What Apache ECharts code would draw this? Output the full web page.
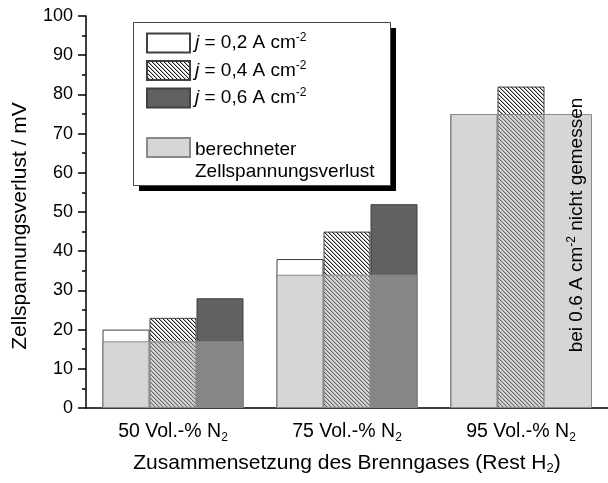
<!DOCTYPE html>
<html>
<head>
<meta charset="utf-8">
<script src="https://cdn.jsdelivr.net/npm/echarts@6/dist/echarts.min.js"></script>
<style>
  html, body { margin: 0; padding: 0; background: #fff; }
  #chart { width: 608px; height: 483px; }
</style>
</head>
<body>
<div id="chart"></div>
<script>
// Fuel gas composition groups (N2 content, rest H2)
const categories = ['50 Vol.-% N', '75 Vol.-% N', '95 Vol.-% N'];
// Measured cell voltage loss in mV at each current density
const lossJ02 = [20, 38, 75];
const lossJ04 = [23, 45, 82];
const lossJ06 = [28, 52, null]; // not measured at 0.6 A cm-2 for 95 %
// Calculated cell voltage loss in mV
const lossCalc = [17, 34, 75];

const FONT = '"Liberation Sans", Arial, Helvetica, sans-serif';

// Diagonal hatch tile for the 0.4 A cm-2 series
function hatchTile() {
  const c = document.createElement('canvas');
  c.width = 4; c.height = 4;
  const ctx = c.getContext('2d');
  const img = ctx.createImageData(4, 4);
  for (let y = 0; y < 4; y++) {
    for (let x = 0; x < 4; x++) {
      const d = ((x - y) % 4 + 4) % 4;
      const v = d === 0 ? 30 : (d === 1 ? 190 : 255);
      const i = (y * 4 + x) * 4;
      img.data[i] = img.data[i + 1] = img.data[i + 2] = v;
      img.data[i + 3] = 255;
    }
  }
  ctx.putImageData(img, 0, 0);
  return { image: c, repeat: 'repeat' };
}

const chart = echarts.init(document.getElementById('chart'), null, { renderer: 'canvas' });

const legendRich = {
  i: { fontStyle: 'italic', fontSize: 19, fontFamily: FONT, color: '#000', lineHeight: 22 },
  t: { fontSize: 19, fontFamily: FONT, color: '#000', lineHeight: 22 },
  sup: { fontSize: 12, fontFamily: FONT, color: '#000', verticalAlign: 'top', lineHeight: 12 }
};

const legendBox = [
  { type: 'rect', z: 1, shape: { x: 139, y: 28, width: 257, height: 163 }, style: { fill: '#000' } },
  { type: 'rect', z: 1, shape: { x: 133.5, y: 22.5, width: 257, height: 163 }, style: { fill: '#fff', stroke: '#444', lineWidth: 1 } }
];

const option = {
  animation: false,
  backgroundColor: '#fff',
  grid: { left: 86, top: 16, bottom: 75, right: 0, containLabel: false },
  xAxis: [
    {
      type: 'category',
      data: categories,
      axisLine: { lineStyle: { color: '#000', width: 1.5 } },
      axisTick: { alignWithLabel: true, length: 8, lineStyle: { color: '#000', width: 1.5 } },
      axisLabel: {
        margin: 12,
        formatter: v => '{t|' + v + '}{sub|2}',
        rich: {
          t: { fontSize: 19.5, fontFamily: FONT, color: '#000', lineHeight: 24 },
          sub: { fontSize: 12, fontFamily: FONT, color: '#000', verticalAlign: 'bottom', lineHeight: 12 }
        }
      },
      name: '{t|Zusammensetzung des Brenngases (Rest H}{sub|2}{t|)}',
      nameLocation: 'middle',
      nameGap: 43,
      nameTextStyle: {
        rich: {
          t: { fontSize: 21, fontFamily: FONT, color: '#000', lineHeight: 24 },
          sub: { fontSize: 13, fontFamily: FONT, color: '#000', verticalAlign: 'bottom', lineHeight: 12 }
        }
      }
    },
    {
      type: 'category',
      data: categories,
      show: false
    }
  ],
  yAxis: {
    type: 'value',
    min: 0,
    max: 100,
    interval: 10,
    axisLine: { show: true, lineStyle: { color: '#000', width: 1.5 } },
    axisTick: { show: true, length: 8, lineStyle: { color: '#000', width: 1.5 } },
    minorTick: { show: true, splitNumber: 2, length: 4, lineStyle: { color: '#000', width: 1.5 } },
    splitLine: { show: false },
    axisLabel: { margin: 13, fontSize: 18, fontFamily: FONT, color: '#000' },
    name: 'Zellspannungsverlust / mV',
    nameLocation: 'middle',
    nameRotate: 90,
    nameGap: 55,
    nameTextStyle: { fontSize: 21, fontFamily: FONT, color: '#000', padding: [0, 28, 0, 0] }
  },
  legend: [
    {
      orient: 'vertical',
      left: 146,
      top: 32,
      padding: 0,
      itemWidth: 43,
      itemHeight: 19,
      itemGap: 6,
      icon: 'rect',
      data: ['j02', 'j04', 'j06'],
      formatter: n => {
        const v = { j02: '0,2', j04: '0,4', j06: '0,6' }[n];
        return '{i|j}{t| = ' + v + ' A cm}{sup|-2}';
      },
      textStyle: { rich: legendRich },
      selectedMode: false
    },
    {
      orient: 'vertical',
      left: 146,
      top: 137,
      padding: 0,
      itemWidth: 43,
      itemHeight: 19,
      icon: 'rect',
      data: ['calc'],
      formatter: () => '{t|berechneter}\n{t|Zellspannungsverlust}',
      textStyle: { rich: legendRich, padding: [26, 0, 0, 0] },
      selectedMode: false
    }
  ],
  graphic: legendBox,
  series: [
    {
      name: 'j02', type: 'bar', xAxisIndex: 0, barWidth: 47, barGap: '0%', z: 2,
      data: lossJ02,
      itemStyle: { color: '#fff', borderColor: '#404040', borderWidth: 1 }
    },
    {
      name: 'j04', type: 'bar', xAxisIndex: 0, barWidth: 47, barGap: '0%', z: 2,
      data: lossJ04,
      itemStyle: { color: hatchTile(), borderColor: '#404040', borderWidth: 1 }
    },
    {
      name: 'j06', type: 'bar', xAxisIndex: 0, barWidth: 47, barGap: '0%', z: 2,
      data: lossJ06,
      itemStyle: { color: '#616161', borderColor: '#404040', borderWidth: 1 }
    },
    {
      name: 'calc', type: 'bar', xAxisIndex: 1, barWidth: 142, z: 3,
      data: lossCalc,
      itemStyle: { color: 'rgba(173,173,173,0.5)', borderColor: '#8a8a8a', borderWidth: 1 }
    }
  ]
};

chart.setOption(option);

// Note for the missing 0.6 A cm-2 measurement, placed in the empty bar slot
const px = chart.convertToPixel({ xAxisIndex: 0, yAxisIndex: 0 }, [categories[2], 48]);
chart.setOption({
  graphic: legendBox.concat([
    {
      type: 'text',
      z: 10,
      x: px[0] + 56,
      y: 225,
      rotation: Math.PI / 2,
      style: {
        text: '{t|bei 0.6 A cm}{sup|-2}{t| nicht gemessen}',
        align: 'center',
        verticalAlign: 'middle',
        rich: {
          t: { fontSize: 19, fontFamily: FONT, color: '#000', lineHeight: 22 },
          sup: { fontSize: 12, fontFamily: FONT, color: '#000', verticalAlign: 'top', lineHeight: 12 }
        }
      }
    }
  ])
});
</script>
</body>
</html>
